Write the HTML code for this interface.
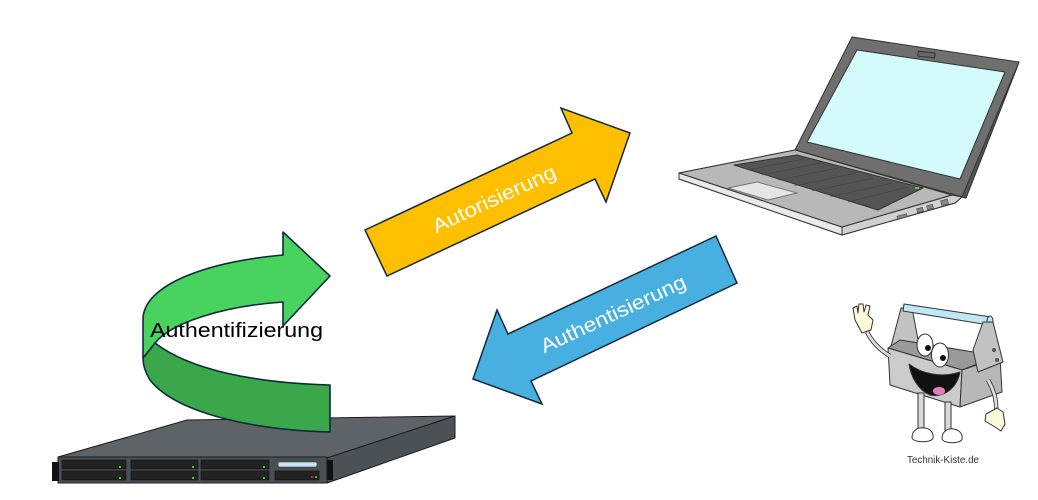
<!DOCTYPE html>
<html><head><meta charset="utf-8"><style>
html,body{margin:0;padding:0;background:#fff;}
svg{display:block;}
</style></head><body>
<svg width="1038" height="500" viewBox="0 0 1038 500" xmlns="http://www.w3.org/2000/svg">
<rect width="1038" height="500" fill="#fff"/>

<!-- Server -->
<g stroke="#1c1c1c" stroke-width="1" stroke-linejoin="round">
  <polygon points="187,420 455,416 327,458 58,457" fill="#5e6367"/>
  <polygon points="327,458 455,416 455,438 327,483" fill="#4c5155"/>
  <rect x="58" y="457" width="269" height="26" fill="#4a4f53"/>
</g>
<rect x="52" y="462" width="7" height="19" fill="#111"/>
<rect x="327" y="460" width="6" height="20" fill="#111"/>
<g fill="#222" stroke="#111" stroke-width="0.6">
  <rect x="62" y="460" width="64" height="9"/>
  <rect x="62" y="471" width="64" height="9"/>
  <rect x="131" y="460" width="67" height="9"/>
  <rect x="131" y="471" width="67" height="9"/>
  <rect x="201" y="460" width="68" height="9"/>
  <rect x="201" y="471" width="68" height="9"/>
  <rect x="275" y="471" width="44" height="9"/>
</g>
<rect x="278" y="462" width="39" height="5" rx="2" fill="#c9e4f5" stroke="#333" stroke-width="0.6"/>
<g fill="#2bd02b">
  <rect x="119" y="466" width="2" height="2"/><rect x="119" y="477" width="2" height="2"/>
  <rect x="192" y="466" width="2" height="2"/><rect x="192" y="477" width="2" height="2"/>
  <rect x="263" y="466" width="2" height="2"/><rect x="263" y="477" width="2" height="2"/>
  <rect x="315" y="476" width="2" height="2"/>
</g>
<rect x="311" y="476" width="2" height="2" fill="#e02020"/>

<!-- Green curved arrow -->
<g stroke="#0e2a3c" stroke-width="1.6" stroke-linejoin="round">
  <path d="M155,343 C190,370 255,383 330,385 L330,432 C250,430 175,412 150,380 C145,372 143,365 143,358 Z" fill="#3aa84a"/>
  <path d="M283,255 L283,232 L330,276 L283,326 L283,302 C225,306 172,322 155,343 L143,358 L143,318 C145,285 205,262 283,255 Z" fill="#47d35e"/>
</g>
<text x="150" y="337" font-family="Liberation Sans, sans-serif" font-size="20" fill="#000" textLength="173" lengthAdjust="spacingAndGlyphs">Authentifizierung</text>

<!-- Yellow arrow -->
<polygon points="365,230 572,133 561,108 630,133 606,202 595,179 387,276" fill="#fdbf00" stroke="#13293a" stroke-width="1.5" stroke-linejoin="miter"/>
<text x="0" y="0" font-family="Liberation Sans, sans-serif" font-size="20" fill="#fff" text-anchor="middle" textLength="134" lengthAdjust="spacingAndGlyphs" transform="translate(497,205) rotate(-25)">Autorisierung</text>

<!-- Blue arrow -->
<polygon points="716,236 737,283 531,381 542,404 473,379 497,310 508,334" fill="#48b0e0" stroke="#13293a" stroke-width="1.5" stroke-linejoin="miter"/>
<text x="0" y="0" font-family="Liberation Sans, sans-serif" font-size="20" fill="#fff" text-anchor="middle" textLength="158" lengthAdjust="spacingAndGlyphs" transform="translate(616,320) rotate(-25)">Authentisierung</text>

<!-- Laptop -->
<g stroke="#333" stroke-width="1" stroke-linejoin="round">
  <polygon points="852,37 1019,62 1016,70 966,198 962,197 795,150" fill="#6f6f6f"/>
  <polygon points="1019,62 1016,70 966,198 962,197" fill="#555"/>
  <polygon points="857,50 1005,72 960,179 807,142" fill="#d4fbfb"/>
  <rect x="918" y="52" width="17" height="5" fill="#666" transform="rotate(6 926 54)"/>
  <polygon points="679,173 795,150 962,197 955,203 842,235 679,179" fill="#bdbdbd"/>
  <polygon points="679,173 842,227 842,235 679,179" fill="#e9e9e9"/>
  <polygon points="842,227 952,195 962,197 955,203 842,235" fill="#d0d0d0"/>
  <polygon points="679,173 795,150 952,195 842,227" fill="#b8b8b8"/>
  <polygon points="734,165 797,155 923,188 878,210" fill="#545454"/>
  <polygon points="728,188 757,182 797,193 768,200" fill="#e6e6e6" stroke="#777"/>
</g>
<g stroke="#3a3a3a" stroke-width="0.4">
  <line x1="748" y1="170" x2="804" y2="159"/>
  <line x1="762" y1="175" x2="820" y2="163"/>
  <line x1="778" y1="180" x2="838" y2="168"/>
  <line x1="794" y1="186" x2="856" y2="173"/>
  <line x1="812" y1="191" x2="874" y2="178"/>
  <line x1="830" y1="197" x2="892" y2="183"/>
  <line x1="848" y1="202" x2="908" y2="187"/>
</g>
<rect x="915" y="187" width="4" height="2" fill="#5c5"/>
<g fill="#888" stroke="#333" stroke-width="0.5">
  <rect x="897" y="215" width="10" height="3" transform="rotate(-15 902 216)"/>
  <rect x="917" y="208" width="6" height="4" transform="rotate(-15 920 210)"/>
  <rect x="927" y="205" width="6" height="4" transform="rotate(-15 930 207)"/>
  <rect x="941" y="200" width="7" height="5" transform="rotate(-15 944 202)"/>
</g>

<!-- Mascot -->
<g stroke="#333" stroke-width="1" stroke-linejoin="round">
  <!-- left upright -->
  <polygon points="901,308 912,308 920,350 890,350" fill="#c2c2c2"/>
  <!-- handle -->
  <path d="M904,304 L991,317 L989,325 L903,311 Z" fill="#bfe8f5"/>
  <ellipse cx="990" cy="321" rx="3" ry="5" fill="#bfe8f5"/>
  <!-- interior -->
  <polygon points="888,348 900,340 998,356 962,370" fill="#9a9a9a"/>
  <!-- front face -->
  <polygon points="888,348 962,370 960,407 890,385" fill="#cbcbcb"/>
  <!-- right side -->
  <polygon points="962,370 1000,357 1002,392 960,407" fill="#b8b8b8"/>
  <!-- right upright -->
  <polygon points="983,322 993,322 1003,362 978,372 973,350" fill="#c2c2c2"/>
  <!-- legs -->
  <rect x="918" y="393" width="6" height="37" fill="#d9d9d9"/>
  <rect x="945" y="402" width="6" height="29" fill="#d9d9d9"/>
  <!-- shoes -->
  <path d="M912,438 C912,430 918,427 924,428 C930,428 934,433 933,438 C932,443 914,443 912,438 Z" fill="#fff"/>
  <path d="M942,439 C942,431 948,428 954,429 C960,430 963,435 962,439 C961,444 944,444 942,439 Z" fill="#fff"/>
  <!-- arms -->
  <path d="M890,356 C880,350 872,342 867,332" fill="none" stroke-width="4.5" stroke="#333"/>
  <path d="M890,356 C880,350 872,342 867,332" fill="none" stroke-width="2.8" stroke="#ddd"/>
  <path d="M988,380 C995,392 997,402 996,412" fill="none" stroke-width="4.5" stroke="#333"/>
  <path d="M988,380 C995,392 997,402 996,412" fill="none" stroke-width="2.8" stroke="#ddd"/>
  <!-- hands -->
  <path d="M855,320 L853,308 L857,306 L858,313 L859,304 L863,304 L864,312 L866,305 L870,306 L868,315 L873,320 L871,330 L862,333 Z" fill="#fdfadc"/>
  <path d="M986,414 L997,408 L1003,412 L1005,424 L1001,431 L995,427 L990,424 L985,421 Z" fill="#fdfadc"/>
  <!-- eyes -->
  <ellipse cx="925" cy="345" rx="8" ry="11" fill="#fff"/>
  <ellipse cx="940" cy="355" rx="8.5" ry="12" fill="#fff"/>
  <!-- mouth -->
  <path d="M909,364 C922,374 942,378 960,372 C957,388 944,398 930,395 C918,390 911,377 909,364 Z" fill="#111"/>
  <ellipse cx="939" cy="391" rx="6" ry="4" fill="#e47fb6" stroke="none"/>
</g>
<circle cx="928" cy="348" r="3" fill="#111"/>
<circle cx="943" cy="358" r="3" fill="#111"/>
<circle cx="994" cy="350" r="2" fill="#555"/>
<circle cx="997" cy="360" r="2" fill="#555"/>
<text x="907" y="463" font-family="Liberation Sans, sans-serif" font-size="10" fill="#333" textLength="72" lengthAdjust="spacingAndGlyphs">Technik-Kiste.de</text>
</svg>
</body></html>
